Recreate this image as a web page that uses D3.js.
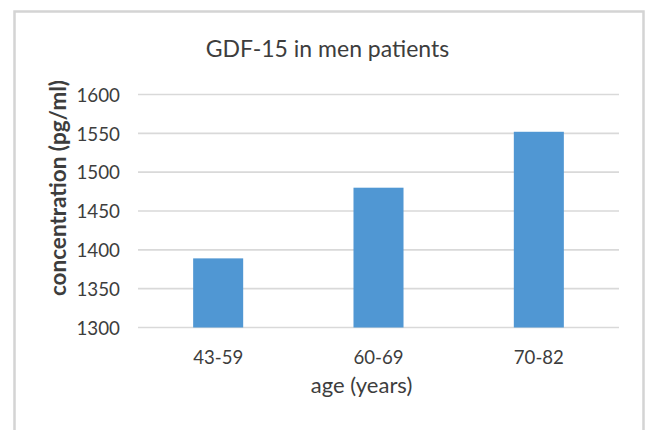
<!DOCTYPE html>
<html>
<head>
<meta charset="utf-8">
<script src="https://cdn.jsdelivr.net/npm/d3@7"></script>
<style>
  html, body { margin: 0; padding: 0; background: #ffffff; }
  svg { display: block; }
  text { font-family: Lato, "Open Sans", sans-serif; fill: #3d3d3d; }
</style>
</head>
<body>
<svg id="chart" width="645" height="430"></svg>
<script>
// Chart data
const categories = ["43-59", "60-69", "70-82"];
const values = [1389, 1480, 1552];
const yTicks = [1300, 1350, 1400, 1450, 1500, 1550, 1600];
const chartTitle = "GDF-15 in men patients";
const xTitle = "age (years)";
const yTitle = "concentration (pg/ml)";

const svg = d3.select("#chart");

// Chart area frame (open at the bottom edge)
svg.append("path")
  .attr("d", "M14.5,432 V11.5 H643.5 V432")
  .attr("fill", "none")
  .attr("stroke", "#d4d4d4")
  .attr("stroke-width", 2.5);

const plot = { left: 138, right: 619, top: 94.5, bottom: 327.5 };

const x = d3.scaleBand()
  .domain(categories)
  .range([plot.left, plot.right])
  .paddingInner(0.688)
  .paddingOuter(0.344);

const y = d3.scaleLinear()
  .domain([1300, 1600])
  .range([plot.bottom, plot.top]);

// Horizontal gridlines
svg.append("g")
  .selectAll("line")
  .data(yTicks)
  .join("line")
  .attr("x1", plot.left)
  .attr("x2", plot.right)
  .attr("y1", d => y(d))
  .attr("y2", d => y(d))
  .attr("stroke", "#d9d9d9")
  .attr("stroke-width", 1.6);

// Bars
svg.append("g")
  .selectAll("rect")
  .data(values)
  .join("rect")
  .attr("x", (d, i) => x(categories[i]))
  .attr("width", x.bandwidth())
  .attr("y", d => y(d))
  .attr("height", d => y(1300) - y(d))
  .attr("fill", "#5097d3");

// Y axis tick labels
const yAxis = d3.axisLeft(y).tickValues(yTicks).tickSize(0).tickPadding(0).tickFormat(d3.format("d"));
const yG = svg.append("g").attr("transform", "translate(120,0)").call(yAxis);
yG.select(".domain").remove();
yG.selectAll("text")
  .attr("font-size", 18.8)
  .attr("font-family", "Lato, sans-serif")
  .attr("fill", "#3d3d3d")
  .attr("dy", "0.36em");

// X axis tick labels
const xAxis = d3.axisBottom(x).tickSize(0).tickPadding(0);
const xG = svg.append("g").attr("transform", `translate(0,${plot.bottom})`).call(xAxis);
xG.select(".domain").remove();
xG.selectAll("text")
  .attr("font-size", 18.6)
  .attr("font-family", "Lato, sans-serif")
  .attr("fill", "#3d3d3d")
  .attr("y", 36)
  .attr("dy", null);

// Titles
svg.append("text")
  .attr("x", 327.5)
  .attr("y", 56.5)
  .attr("text-anchor", "middle")
  .attr("font-size", 23)
  .text(chartTitle);

svg.append("text")
  .attr("x", 361.5)
  .attr("y", 393)
  .attr("text-anchor", "middle")
  .attr("font-size", 22)
  .text(xTitle);

svg.append("text")
  .attr("transform", "translate(66,188) rotate(-90)")
  .attr("text-anchor", "middle")
  .attr("font-size", 22.5)
  .attr("font-weight", "bold")
  .text(yTitle);
</script>
</body>
</html>
